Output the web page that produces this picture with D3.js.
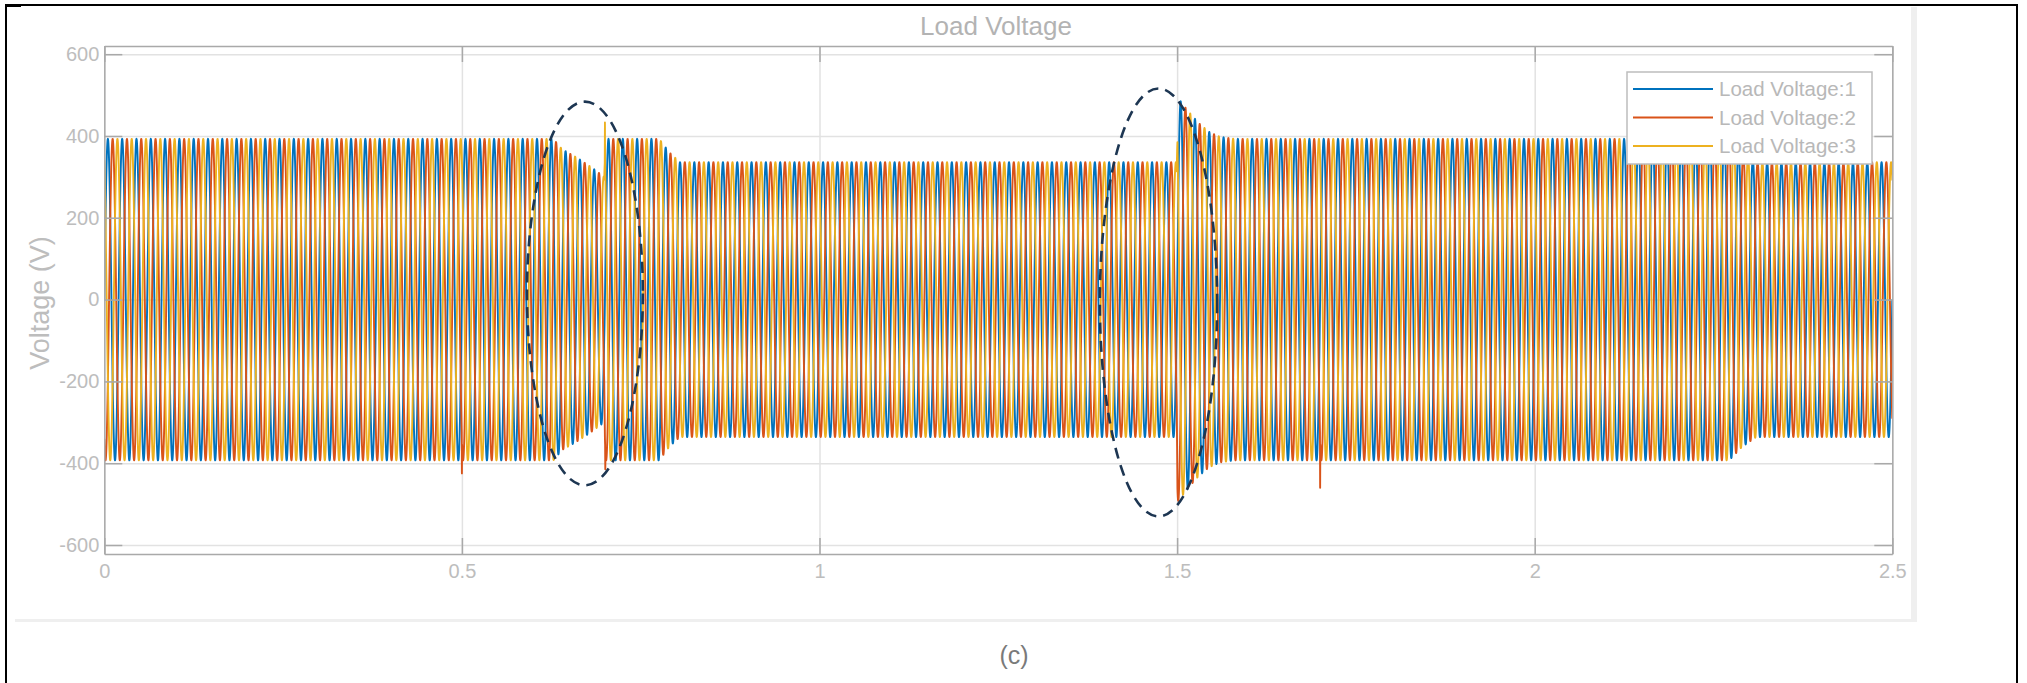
<!DOCTYPE html>
<html><head><meta charset="utf-8">
<script src="https://cdn.jsdelivr.net/npm/d3@7"></script>
<style>
html,body{margin:0;padding:0;background:#fff;}
svg{display:block;font-family:"Liberation Sans",Arial,Helvetica,sans-serif;}
</style></head><body>
<svg id="c" width="2027" height="683"></svg>
<script>
// ---------- data ----------
const seriesNames  = ["Load Voltage:1", "Load Voltage:2", "Load Voltage:3"];
const seriesColors = ["#0072BD", "#D95319", "#EDB120"];
const phaseDeg     = [0, -120, 120];
const frequencyHz  = 50;
const sampleStep   = 0.00025;
// amplitude envelope (peak volts) at breakpoints in time (s)
const envTime = [0, 0.628, 0.640, 0.660, 0.680, 0.699, 0.700, 0.776, 0.790, 0.805, 1.4995, 1.5005, 1.515, 1.530, 1.545, 1.560, 1.580, 2.272, 2.290, 2.310, 2.5];
const envAmp  = [393, 393, 368, 348, 325, 300, 393, 393, 360, 336, 336, 495, 462, 432, 410, 398, 393, 393, 360, 336, 336];
// isolated spikes
const spikeSeries = [1, 2, 1, 1];
const spikeTime   = [0.5, 0.7, 0.7005, 1.7];
const spikeValue  = [-425, 433, -415, -460];
// ticks
const xTicks = [0, 0.5, 1, 1.5, 2, 2.5];
const xTickLabels = ["0", "0.5", "1", "1.5", "2", "2.5"];
const yTicks = [-600, -400, -200, 0, 200, 400, 600];
const yTickLabels = ["-600", "-400", "-200", "0", "200", "400", "600"];
const xDomain = [0, 2.5];
const yDomain = [-622, 620];
// dashed ellipse annotations (data space)
const markTime  = [0.672, 1.474];
const markVolt  = [15, -7];
const markHalfT = [0.081, 0.082];
const markHalfV = [469, 523];
const titleText = "Load Voltage";
const yLabelText = "Voltage (V)";
const captionText = "(c)";

// ---------- drawing ----------
const svg = d3.select("#c");
const L = 104.3, R = 1892.3, T = 46, B = 554;
const x = d3.scaleLinear().domain(xDomain).range([L, R]);
const y = d3.scaleLinear().domain(yDomain).range([B, T]);
const env = d3.scaleLinear().domain(envTime).range(envAmp).clamp(true);

// frame decorations
svg.append("rect").attr("x", 1911).attr("y", 7).attr("width", 6).attr("height", 615).attr("fill", "#efefef");
svg.append("rect").attr("x", 15).attr("y", 619).attr("width", 1902).attr("height", 3).attr("fill", "#efefef");
svg.append("rect").attr("x", 6).attr("y", 5).attr("width", 2011).attr("height", 720)
  .attr("fill", "none").attr("stroke", "#000").attr("stroke-width", 2);
svg.append("line").attr("x1", 6).attr("x2", 21).attr("y1", 5.5).attr("y2", 5.5).attr("stroke", "#000").attr("stroke-width", 3);

// grid
const grid = svg.append("g");
grid.append("g").attr("transform", `translate(${L},0)`)
  .call(d3.axisLeft(y).tickValues(yTicks).tickSize(-(R - L)).tickFormat(""))
  .call(g => g.select(".domain").remove())
  .call(g => g.selectAll("line").attr("stroke", "#e2e2e2").attr("stroke-width", 1.5));
grid.append("g").attr("transform", `translate(0,${B})`)
  .call(d3.axisBottom(x).tickValues(xTicks).tickSize(-(B - T)).tickFormat(""))
  .call(g => g.select(".domain").remove())
  .call(g => g.selectAll("line").attr("stroke", "#e2e2e2").attr("stroke-width", 1.5));

// waveforms
svg.append("clipPath").attr("id", "clip").append("rect")
  .attr("x", L).attr("y", T).attr("width", R - L).attr("height", B - T);
const times = d3.range(0, xDomain[1] + sampleStep / 2, sampleStep);
const series = seriesNames.map((name, si) => {
  const ph = phaseDeg[si] * Math.PI / 180;
  const pts = times.map(t => [t, env(t) * Math.sin(2 * Math.PI * frequencyHz * t + ph)]);
  spikeTime.forEach((st, k) => {
    if (spikeSeries[k] === si) {
      const idx = Math.round(st / sampleStep);
      pts[idx] = [pts[idx][0], spikeValue[k]];
    }
  });
  return pts;
});
const line = d3.line().x(d => x(d[0])).y(d => y(d[1]));
const wave = svg.append("g").attr("clip-path", "url(#clip)");
series.forEach((pts, si) => {
  wave.append("path").attr("d", line(pts)).attr("fill", "none")
    .attr("stroke", seriesColors[si]).attr("stroke-width", 1.9).attr("stroke-linejoin", "round");
});

// axes (MATLAB style, inward ticks)
const axCol = "#a9a9a9", lblCol = "#bdbdbd";
function styleAxis(g) {
  g.select(".domain").attr("stroke", axCol).attr("stroke-width", 1.5);
  g.selectAll(".tick line").attr("stroke", axCol).attr("stroke-width", 1.5);
  g.selectAll("text").attr("fill", lblCol).attr("font-size", 20)
    .attr("font-family", "'Liberation Sans', Arial, sans-serif");
}
svg.append("g").attr("transform", `translate(${L},0)`)
  .call(d3.axisLeft(y).tickValues(yTicks).tickFormat((d, i) => yTickLabels[i]).tickSizeInner(-18).tickSizeOuter(0).tickPadding(5))
  .call(styleAxis);
svg.append("g").attr("transform", `translate(${R},0)`)
  .call(d3.axisRight(y).tickValues(yTicks).tickFormat("").tickSizeInner(-18).tickSizeOuter(0))
  .call(styleAxis);
svg.append("g").attr("transform", `translate(0,${B})`)
  .call(d3.axisBottom(x).tickValues(xTicks).tickFormat((d, i) => xTickLabels[i]).tickSizeInner(-16).tickSizeOuter(0).tickPadding(10))
  .call(styleAxis);
svg.append("g").attr("transform", `translate(0,${T})`)
  .call(d3.axisTop(x).tickValues(xTicks).tickFormat("").tickSizeInner(-16).tickSizeOuter(0))
  .call(styleAxis);

// title & labels
svg.append("text").attr("x", 996).attr("y", 35).attr("text-anchor", "middle")
  .attr("font-size", 26).attr("fill", "#b3b3b3").text(titleText);
svg.append("text").attr("transform", "translate(49,303) rotate(-90)").attr("text-anchor", "middle")
  .attr("font-size", 27).attr("fill", "#bdbdbd").text(yLabelText);
svg.append("text").attr("x", 1014).attr("y", 664).attr("text-anchor", "middle")
  .attr("font-size", 25).attr("fill", "#7a7a7a").text(captionText);

// legend
const lg = svg.append("g");
lg.append("rect").attr("x", 1627).attr("y", 72).attr("width", 245).attr("height", 92)
  .attr("fill", "#fff").attr("stroke", "#bdbdbd").attr("stroke-width", 1.5);
seriesNames.forEach((n, i) => {
  const yy = 89 + i * 28.5;
  lg.append("line").attr("x1", 1633).attr("x2", 1713).attr("y1", yy).attr("y2", yy)
    .attr("stroke", seriesColors[i]).attr("stroke-width", 2);
  lg.append("text").attr("x", 1719).attr("y", yy + 7).attr("font-size", 20.5)
    .attr("fill", "#b8b8b8").text(n);
});

// dashed ellipses
const ann = svg.append("g");
markTime.forEach((t, i) => {
  ann.append("ellipse").attr("cx", x(t)).attr("cy", y(markVolt[i]))
    .attr("rx", x(t + markHalfT[i]) - x(t)).attr("ry", y(markVolt[i]) - y(markVolt[i] + markHalfV[i]))
    .attr("fill", "none").attr("stroke", "#1d3652").attr("stroke-width", 2.6).attr("stroke-dasharray", "11 7");
});
</script>
</body></html>
